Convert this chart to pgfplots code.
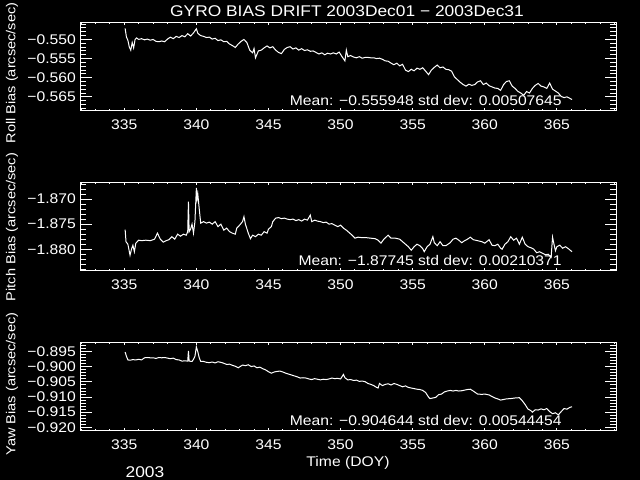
\documentclass[border=0pt]{standalone}
\usepackage{fontspec}
\setmainfont{Liberation Sans}[FakeStretch=1.12]
\usepackage{pgfplots}
\pgfplotsset{compat=1.18}
\newcommand\fa{\fontsize{14bp}{16bp}\selectfont}
\newcommand\fc{\fontsize{13bp}{15bp}\selectfont}
\newcommand\fb{\fontsize{15.5bp}{18bp}\selectfont}
\pgfplotsset{
 gyro/.style={
  scale only axis, width=536bp, height=88bp,
  anchor=south west,
  xmin=331.93, xmax=369.1,
  axis line style={white, line width=1bp},
  tick align=inside,
  xtick={335,340,345,350,355,360,365},
  xticklabels={335,340,345,350,355,360,365},
  minor xtick={332,333,...,369},
  every tick/.append style={white, line width=1bp},
  xtick style={/pgfplots/major tick length=2.5bp,/pgfplots/minor tick length=1.5bp},
  ytick style={/pgfplots/major tick length=11.5bp,/pgfplots/minor tick length=6bp},
  tick label style={white, font=\fa},
  xticklabel style={anchor=base, yshift=-19bp, inner sep=0pt},
  yticklabel style={anchor=east, inner sep=0pt, xshift=-4bp},
 },
 curve/.style={white, line width=1bp, no marks},
}
\begin{document}
\begin{tikzpicture}
\fill[black] (0,0) rectangle (640bp,480bp);

% ---------- Roll ----------
\begin{axis}[gyro, at={(80bp,369bp)},
  ymin=-0.5687, ymax=-0.5457,
  ytick={-0.565,-0.560,-0.555,-0.550},
  yticklabels={−0.565,−0.560,−0.555,−0.550},
  minor ytick={-0.568,-0.567,...,-0.546}]
\addplot[curve] table {
335.06 -0.5471
335.15 -0.5494
335.25 -0.5502
335.35 -0.5520
335.45 -0.5528
335.55 -0.5508
335.65 -0.5522
335.75 -0.5500
335.85 -0.5496
336.0 -0.5500
336.2 -0.5498
336.4 -0.5501
336.6 -0.5499
336.8 -0.5502
337.0 -0.5500
337.2 -0.5505
337.4 -0.5506
337.6 -0.5504
337.8 -0.5506
338.0 -0.5499
338.2 -0.5494
338.4 -0.5498
338.6 -0.5492
338.8 -0.5495
339.0 -0.5490
339.2 -0.5493
339.4 -0.5485
339.6 -0.5491
339.8 -0.5483
340.0 -0.5472
340.1 -0.5484
340.3 -0.5490
340.5 -0.5492
340.7 -0.5495
340.9 -0.5494
341.1 -0.5499
341.3 -0.5497
341.5 -0.5503
341.7 -0.5501
341.9 -0.5506
342.1 -0.5505
342.3 -0.5512
342.5 -0.5516
342.7 -0.5521
342.9 -0.5512
343.1 -0.5505
343.3 -0.5500
343.5 -0.5508
343.7 -0.5528
343.9 -0.5535
344.0 -0.5524
344.1 -0.5548
344.3 -0.5530
344.5 -0.5528
344.7 -0.5522
344.9 -0.5517
345.1 -0.5522
345.3 -0.5519
345.5 -0.5528
345.7 -0.5534
345.9 -0.5537
346.1 -0.5526
346.3 -0.5521
346.5 -0.5519
346.7 -0.5525
346.9 -0.5522
347.1 -0.5528
347.3 -0.5524
347.5 -0.5529
347.7 -0.5527
347.9 -0.5531
348.1 -0.5530
348.3 -0.5534
348.5 -0.5538
348.7 -0.5535
348.9 -0.5540
349.1 -0.5536
349.3 -0.5538
349.5 -0.5535
349.7 -0.5538
349.9 -0.5533
350.1 -0.5545
350.3 -0.5556
350.4 -0.5528
350.5 -0.5545
350.7 -0.5542
350.9 -0.5546
351.1 -0.5548
351.3 -0.5545
351.5 -0.5549
351.7 -0.5547
351.9 -0.5547
352.1 -0.5548
352.3 -0.5548
352.5 -0.5550
352.7 -0.5549
352.9 -0.5552
353.1 -0.5556
353.3 -0.5557
353.5 -0.5562
353.7 -0.5566
353.9 -0.5562
354.1 -0.5569
354.3 -0.5565
354.5 -0.5580
354.7 -0.5584
354.9 -0.5578
355.1 -0.5582
355.3 -0.5575
355.5 -0.5578
355.7 -0.5574
355.9 -0.5583
356.1 -0.5592
356.3 -0.5580
356.5 -0.5573
356.7 -0.5567
356.9 -0.5574
357.1 -0.5572
357.3 -0.5578
357.5 -0.5579
357.7 -0.5583
357.9 -0.5598
358.1 -0.5605
358.3 -0.5612
358.5 -0.5618
358.7 -0.5622
358.9 -0.5617
359.1 -0.5620
359.3 -0.5618
359.5 -0.5611
359.7 -0.5608
359.9 -0.5618
360.1 -0.5614
360.3 -0.5621
360.5 -0.5624
360.7 -0.5627
360.9 -0.5628
361.1 -0.5633
361.3 -0.5618
361.5 -0.5610
361.7 -0.5608
361.9 -0.5622
362.1 -0.5628
362.3 -0.5636
362.5 -0.5640
362.7 -0.5646
362.9 -0.5636
363.1 -0.5640
363.3 -0.5628
363.5 -0.5620
363.7 -0.5615
363.9 -0.5622
364.1 -0.5624
364.3 -0.5628
364.5 -0.5614
364.7 -0.5630
364.9 -0.5635
365.1 -0.5640
365.3 -0.5649
365.5 -0.5652
365.7 -0.5650
365.9 -0.5654
366.05 -0.5657
};
\node[anchor=base east, white, font=\fa, inner sep=0pt] at (rel axis cs:0.899,0.065) {Mean: −0.555948 std dev: 0.00507645};
\end{axis}

% ---------- Pitch ----------
\begin{axis}[gyro, at={(80bp,209bp)},
  ymin=-1.88434, ymax=-1.8668,
  ytick={-1.880,-1.875,-1.870},
  yticklabels={−1.880,−1.875,−1.870},
  minor ytick={-1.884,-1.883,...,-1.867}]
\addplot[curve] table {
335.06 -1.8761
335.12 -1.8785
335.25 -1.8790
335.4 -1.8812
335.5 -1.8800
335.6 -1.8792
335.7 -1.8805
335.8 -1.8788
336.0 -1.8782
336.2 -1.8783
336.5 -1.8782
336.8 -1.8783
337.1 -1.8780
337.3 -1.8768
337.5 -1.8780
337.7 -1.8786
337.9 -1.8783
338.1 -1.8781
338.3 -1.8775
338.5 -1.8780
338.7 -1.8770
338.9 -1.8774
339.1 -1.8770
339.3 -1.8772
339.4 -1.8765
339.45 -1.8705
339.5 -1.8765
339.6 -1.8760
339.7 -1.8750
339.8 -1.8768
339.9 -1.8745
340.0 -1.8678
340.05 -1.8700
340.1 -1.8690
340.2 -1.8720
340.3 -1.8748
340.5 -1.8745
340.7 -1.8748
340.9 -1.8746
341.1 -1.8750
341.3 -1.8745
341.5 -1.8755
341.7 -1.8750
341.9 -1.8762
342.1 -1.8758
342.3 -1.8765
342.5 -1.8768
342.7 -1.8770
342.8 -1.8758
343.0 -1.8752
343.2 -1.8745
343.3 -1.8735
343.4 -1.8750
343.6 -1.8768
343.75 -1.8779
343.9 -1.8772
344.1 -1.8775
344.3 -1.8770
344.5 -1.8772
344.7 -1.8765
344.9 -1.8768
345.0 -1.8760
345.2 -1.8755
345.3 -1.8745
345.5 -1.8738
345.7 -1.8737
345.9 -1.8739
346.1 -1.8738
346.3 -1.8740
346.5 -1.8741
346.7 -1.8740
346.9 -1.8743
347.1 -1.8741
347.3 -1.8744
347.5 -1.8740
347.7 -1.8742
347.9 -1.8732
348.0 -1.8745
348.2 -1.8742
348.4 -1.8744
348.6 -1.8745
348.8 -1.8747
349.0 -1.8746
349.2 -1.8750
349.4 -1.8749
349.6 -1.8752
349.8 -1.8755
350.0 -1.8752
350.2 -1.8758
350.4 -1.8762
350.6 -1.8767
350.8 -1.8772
351.0 -1.8778
351.2 -1.8776
351.5 -1.8777
351.8 -1.8777
352.1 -1.8778
352.4 -1.8779
352.6 -1.8782
352.8 -1.8788
353.0 -1.8780
353.3 -1.8772
353.5 -1.8778
353.8 -1.8778
354.1 -1.8780
354.3 -1.8785
354.5 -1.8790
354.7 -1.8795
354.9 -1.8802
355.1 -1.8795
355.3 -1.8790
355.5 -1.8793
355.7 -1.8799
355.8 -1.8805
356.0 -1.8795
356.2 -1.8790
356.4 -1.8775
356.5 -1.8787
356.7 -1.8793
356.9 -1.8785
357.1 -1.8793
357.3 -1.8793
357.6 -1.8787
357.8 -1.8780
358.0 -1.8778
358.2 -1.8782
358.4 -1.8787
358.6 -1.8783
358.8 -1.8780
359.0 -1.8776
359.2 -1.8781
359.5 -1.8783
359.8 -1.8785
360.0 -1.8788
360.3 -1.8781
360.5 -1.8792
360.7 -1.8793
360.9 -1.8790
361.1 -1.8798
361.2 -1.8800
361.4 -1.8790
361.6 -1.8785
361.8 -1.8775
362.0 -1.8782
362.2 -1.8778
362.4 -1.8790
362.6 -1.8776
362.8 -1.8790
363.0 -1.8795
363.2 -1.8797
363.4 -1.8800
363.6 -1.8807
363.8 -1.8805
364.0 -1.8808
364.2 -1.8811
364.4 -1.8810
364.6 -1.8816
364.7 -1.8776
364.8 -1.8790
364.9 -1.8803
365.0 -1.8795
365.2 -1.8792
365.4 -1.8798
365.6 -1.8795
365.8 -1.8799
366.05 -1.8805
};
\node[anchor=base east, white, font=\fa, inner sep=0pt] at (rel axis cs:0.899,0.065) {Mean: −1.87745 std dev: 0.00210371};
\end{axis}

% ---------- Yaw ----------
\begin{axis}[gyro, at={(80bp,49bp)},
  ymin=-0.92123, ymax=-0.8921,
  ytick={-0.920,-0.915,-0.910,-0.905,-0.900,-0.895},
  yticklabels={−0.920,−0.915,−0.910,−0.905,−0.900,−0.895},
  minor ytick={-0.921,-0.920,...,-0.893}]
\addplot[curve] table {
335.06 -0.8951
335.15 -0.8965
335.25 -0.8977
335.4 -0.8978
335.6 -0.8976
335.8 -0.8977
336.0 -0.8975
336.2 -0.8977
336.4 -0.8970
336.6 -0.8969
336.8 -0.8970
337.0 -0.8970
337.2 -0.8972
337.4 -0.8969
337.6 -0.8970
337.8 -0.8969
338.0 -0.8971
338.2 -0.8973
338.4 -0.8971
338.6 -0.8976
338.8 -0.8977
339.0 -0.8981
339.2 -0.8980
339.4 -0.8981
339.45 -0.8947
339.5 -0.8981
339.7 -0.8982
339.8 -0.8975
339.9 -0.8965
340.0 -0.8934
340.1 -0.8950
340.2 -0.8970
340.3 -0.8982
340.5 -0.8982
340.7 -0.8985
340.9 -0.8986
341.1 -0.8984
341.3 -0.8987
341.5 -0.8983
341.7 -0.8985
341.9 -0.8988
342.1 -0.8992
342.3 -0.8991
342.5 -0.8995
342.7 -0.8998
342.9 -0.9003
343.0 -0.9000
343.2 -0.8994
343.4 -0.8996
343.6 -0.8993
343.8 -0.8999
344.0 -0.8997
344.2 -0.9003
344.4 -0.9001
344.6 -0.9006
344.8 -0.9010
345.0 -0.9016
345.2 -0.9021
345.4 -0.9017
345.6 -0.9015
345.8 -0.9014
346.0 -0.9017
346.2 -0.9021
346.4 -0.9024
346.6 -0.9027
346.8 -0.9030
347.0 -0.9033
347.2 -0.9037
347.4 -0.9036
347.6 -0.9037
347.8 -0.9040
348.0 -0.9042
348.2 -0.9039
348.4 -0.9041
348.6 -0.9043
348.8 -0.9041
349.0 -0.9042
349.2 -0.9040
349.4 -0.9037
349.6 -0.9039
349.8 -0.9038
350.0 -0.9040
350.2 -0.9025
350.3 -0.9036
350.5 -0.9043
350.7 -0.9042
350.9 -0.9045
351.1 -0.9044
351.3 -0.9048
351.5 -0.9047
351.7 -0.9049
351.9 -0.9055
352.1 -0.9058
352.3 -0.9062
352.5 -0.9068
352.6 -0.9070
352.7 -0.9055
352.9 -0.9062
353.1 -0.9058
353.3 -0.9056
353.5 -0.9060
353.7 -0.9055
353.9 -0.9058
354.1 -0.9062
354.3 -0.9066
354.5 -0.9063
354.7 -0.9068
354.9 -0.9070
355.1 -0.9072
355.3 -0.9074
355.5 -0.9075
355.7 -0.9078
355.9 -0.9085
356.1 -0.9100
356.2 -0.9105
356.4 -0.9103
356.6 -0.9101
356.8 -0.9092
357.0 -0.9090
357.2 -0.9083
357.4 -0.9080
357.6 -0.9078
357.8 -0.9080
358.0 -0.9078
358.2 -0.9080
358.4 -0.9079
358.6 -0.9077
358.8 -0.9075
359.0 -0.9074
359.2 -0.9080
359.5 -0.9090
359.8 -0.9091
360.0 -0.9090
360.3 -0.9093
360.5 -0.9098
360.7 -0.9103
360.9 -0.9106
361.1 -0.9110
361.3 -0.9108
361.5 -0.9106
361.8 -0.9105
362.1 -0.9103
362.4 -0.9102
362.6 -0.9112
362.8 -0.9125
363.0 -0.9140
363.2 -0.9145
363.3 -0.9150
363.5 -0.9142
363.7 -0.9143
363.9 -0.9139
364.1 -0.9142
364.3 -0.9138
364.5 -0.9148
364.7 -0.9155
364.9 -0.9152
365.1 -0.9159
365.3 -0.9148
365.5 -0.9138
365.7 -0.9140
365.9 -0.9134
366.05 -0.9132
};
\node[anchor=base east, white, font=\fa, inner sep=0pt] at (rel axis cs:0.899,0.065) {Mean: −0.904644 std dev: 0.00544454};
\end{axis}

% ---------- texts ----------
\node[anchor=base, white, font=\fb, inner sep=0pt] at (347bp,463.3bp) {GYRO BIAS DRIFT 2003Dec01 − 2003Dec31};
\node[rotate=90, white, font=\fc, inner sep=0pt] at (12bp,407bp) {Roll Bias (arcsec/sec)};
\node[rotate=90, white, font=\fc, inner sep=0pt] at (12bp,253bp) {Pitch Bias (arcsec/sec)};
\node[rotate=90, white, font=\fc, inner sep=0pt] at (12bp,96bp) {Yaw Bias (arcsec/sec)};
\node[anchor=base, white, font=\fa, inner sep=0pt] at (348bp,14bp) {Time (DOY)};
\node[anchor=base, white, font=\fb, inner sep=0pt] at (145bp,3bp) {2003};

\pgfresetboundingbox
\path (0,0) rectangle (640bp,480bp);
\end{tikzpicture}
\end{document}
